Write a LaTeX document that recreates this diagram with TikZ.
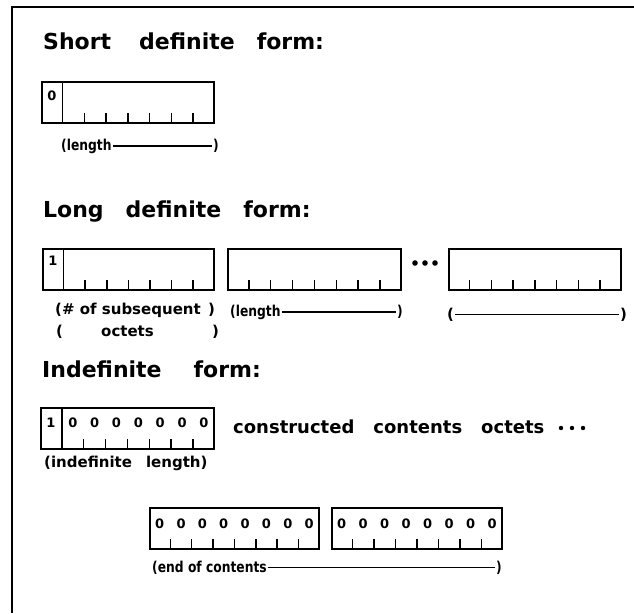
\documentclass[tikz,border=0pt]{standalone}
\usepackage{fontspec}
\setmainfont{DejaVu Sans}
\newfontfamily\narrowfont[FakeStretch=0.82]{DejaVu Sans}
\usetikzlibrary{calc}

\tikzset{
  octetbox/.style={draw, line width=1.8pt, inner sep=0pt, minimum height=41pt, anchor=north west},
  heading/.style={anchor=base west, inner sep=0pt, font=\fontsize{22}{24}\selectfont\bfseries},
  note/.style={anchor=base west, inner sep=1pt, font=\fontsize{15}{17}\selectfont\bfseries},
  narrownote/.style={note, font=\narrowfont\fontsize{15}{17}\selectfont\bfseries},
  bit/.style={inner sep=0pt, font=\fontsize{13}{13}\selectfont\bfseries},
  bittick/.style={line width=1.5pt},
  spanline/.style={line width=1.3pt},
}

\begin{document}
\begin{tikzpicture}[x=1pt,y=-1pt]
\useasboundingbox (0,0) rectangle (634,613);
% page frame
\draw[line width=2.5pt] (12,613) -- (12,7) -- (634,7);

% short definite form
\node[heading] (short) at (43,49) {Short\hspace{28pt}definite\hspace{22pt}form:};
\node[octetbox, minimum width=172pt] (sd) at (41,81) {};
\node[bit, yshift=-15pt] (sdbit) at ($(sd.north west)!1/16!(sd.north east)$) {0};
\node[narrownote] (sdlen) at (60,150) {(length};
\node[narrownote] (sdend) at (212,150) {)};
\draw[spanline] (sdlen.east) -- (sdlen.east -| sdend.west);

% long definite form
\node[heading] (long) at (43,217) {Long\hspace{22pt}definite\hspace{22pt}form:};
\node[octetbox, minimum width=171pt] (ld1) at (42,248) {};
\node[octetbox, minimum width=173pt] (ld2) at (227,248) {};
\node[octetbox, minimum width=172pt] (ld3) at (448,248) {};
\node[bit, yshift=-13pt] (ldbit) at ($(ld1.north west)!1/16!(ld1.north east)$) {1};
\foreach \x in {415,425,435}
  \fill (\x,263) circle (2.8pt);
\node[note] (subs) at (54,314) {(\# of subsequent};
\node[note] (subsr) at (207,314) {)};
\node[note] (octl) at (55,336) {(};
\node[note] (oct) at (100,336) {octets};
\node[note] (octr) at (211,336) {)};
\node[narrownote] (ldlen) at (229,316) {(length};
\node[narrownote] (ldend) at (396,316) {)};
\draw[spanline] (ldlen.east) -- (ldlen.east -| ldend.west);
\node[note] (ldl) at (446,319) {(};
\node[note] (ldr) at (619,319) {)};
\draw[spanline] (ldl.east) -- (ldl.east -| ldr.west);

% indefinite form
\node[heading] (indef) at (42,377) {Indefinite\hspace{32pt}form:};
\node[octetbox, minimum width=173pt] (if1) at (40,407) {};
\node[bit, yshift=-16pt] (ifbit) at ($(if1.north west)!1/16!(if1.north east)$) {1};
\foreach \k in {2,...,8}
  \node[bit, yshift=-16pt] (ifz\k) at ($(if1.north west)!\k/8-1/16!(if1.north east)$) {0};
\node[anchor=base west, inner sep=0pt, font=\fontsize{18}{20}\selectfont\bfseries] (cons) at (233,433)
  {constructed\hspace{19pt}contents\hspace{19pt}octets};
\foreach \x in {561,572,583}
  \fill (\x,428) circle (2.2pt);
\node[note] (iflen) at (43,467) {(indefinite\hspace{14pt}length)};

% end-of-contents octets
\node[octetbox, minimum width=169pt] (eoc1) at (149,507) {};
\node[octetbox, minimum width=170pt] (eoc2) at (331,507) {};
\foreach \b in {eoc1,eoc2}
  \foreach \k in {1,...,8}
    \node[bit, yshift=-17pt] (\b z\k) at ($(\b.north west)!\k/8-1/16!(\b.north east)$) {0};
\node[narrownote] (eoclen) at (151,572) {(end of contents};
\node[narrownote] (eocend) at (495,572) {)};
\draw[spanline] (eoclen.east) -- (eoclen.east -| eocend.west);

% bit ticks and the leading-bit dividers
\foreach \b/\f in {sd/2, ld1/2, ld2/1, ld3/1, if1/2, eoc1/1, eoc2/1}
  \foreach \k in {\f,...,7}
    \draw[bittick] ($(\b.south west)!\k/8!(\b.south east)$) -- ++(0,-11);
\foreach \b in {sd, ld1, if1}
  \draw[line width=1.5pt] ($(\b.south west)!1/8!(\b.south east)$) -- ($(\b.north west)!1/8!(\b.north east)$);
\end{tikzpicture}
\end{document}
